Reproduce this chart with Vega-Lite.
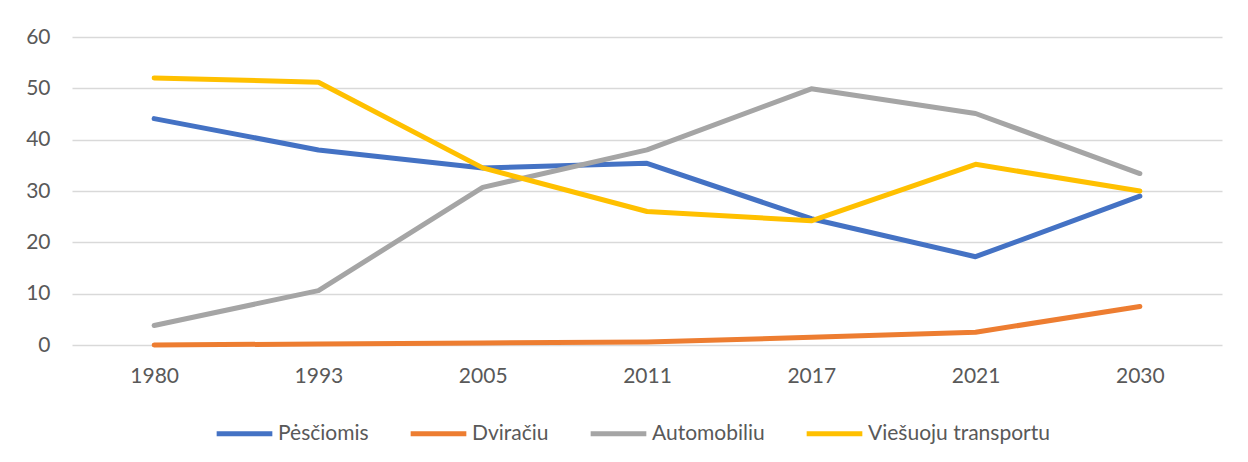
{
  "$schema": "https://vega.github.io/schema/vega-lite/v6.json",
  "width": 1150,
  "height": 308,
  "autosize": {"type": "none"},
  "padding": {"left": 72, "top": 37, "right": 26, "bottom": 117},
  "background": "white",
  "config": {
    "view": {"stroke": null},
    "font": "Lato"
  },
  "data": {
    "values": [
      {"year": "1980", "mode": "Pėsčiomis", "value": 44.1},
      {"year": "1993", "mode": "Pėsčiomis", "value": 38.0},
      {"year": "2005", "mode": "Pėsčiomis", "value": 34.5},
      {"year": "2011", "mode": "Pėsčiomis", "value": 35.4},
      {"year": "2017", "mode": "Pėsčiomis", "value": 24.6},
      {"year": "2021", "mode": "Pėsčiomis", "value": 17.2},
      {"year": "2030", "mode": "Pėsčiomis", "value": 29.0},
      {"year": "1980", "mode": "Dviračiu", "value": 0.0},
      {"year": "1993", "mode": "Dviračiu", "value": 0.2},
      {"year": "2005", "mode": "Dviračiu", "value": 0.4},
      {"year": "2011", "mode": "Dviračiu", "value": 0.6},
      {"year": "2017", "mode": "Dviračiu", "value": 1.5},
      {"year": "2021", "mode": "Dviračiu", "value": 2.5},
      {"year": "2030", "mode": "Dviračiu", "value": 7.5},
      {"year": "1980", "mode": "Automobiliu", "value": 3.8},
      {"year": "1993", "mode": "Automobiliu", "value": 10.6},
      {"year": "2005", "mode": "Automobiliu", "value": 30.7},
      {"year": "2011", "mode": "Automobiliu", "value": 38.0},
      {"year": "2017", "mode": "Automobiliu", "value": 49.9},
      {"year": "2021", "mode": "Automobiliu", "value": 45.1},
      {"year": "2030", "mode": "Automobiliu", "value": 33.4},
      {"year": "1980", "mode": "Viešuoju transportu", "value": 52.0},
      {"year": "1993", "mode": "Viešuoju transportu", "value": 51.2},
      {"year": "2005", "mode": "Viešuoju transportu", "value": 34.5},
      {"year": "2011", "mode": "Viešuoju transportu", "value": 26.0},
      {"year": "2017", "mode": "Viešuoju transportu", "value": 24.2},
      {"year": "2021", "mode": "Viešuoju transportu", "value": 35.2},
      {"year": "2030", "mode": "Viešuoju transportu", "value": 30.0}
    ]
  },
  "mark": {"type": "line", "strokeWidth": 5, "strokeCap": "round", "strokeJoin": "round"},
  "encoding": {
    "x": {
      "field": "year",
      "type": "ordinal",
      "scale": {"type": "point", "padding": 0.5},
      "axis": {
        "title": null,
        "labelAngle": 0,
        "domain": false,
        "ticks": false,
        "grid": false,
        "labelFontSize": 21,
        "labelColor": "#595959",
        "labelPadding": 20
      }
    },
    "y": {
      "field": "value",
      "type": "quantitative",
      "scale": {"domain": [0, 60], "nice": false},
      "axis": {
        "title": null,
        "values": [0, 10, 20, 30, 40, 50, 60],
        "domain": false,
        "ticks": false,
        "gridColor": "#D9D9D9",
        "gridWidth": 1.5,
        "labelFontSize": 21,
        "labelColor": "#595959",
        "labelPadding": 22
      }
    },
    "color": {
      "field": "mode",
      "type": "nominal",
      "sort": ["Pėsčiomis", "Dviračiu", "Automobiliu", "Viešuoju transportu"],
      "scale": {
        "domain": ["Pėsčiomis", "Dviračiu", "Automobiliu", "Viešuoju transportu"],
        "range": ["#4472C4", "#ED7D31", "#A5A5A5", "#FFC000"]
      },
      "legend": {
        "title": null,
        "orient": "none",
        "legendX": 142,
        "legendY": 366,
        "direction": "horizontal",
        "symbolType": "stroke",
        "symbolStrokeWidth": 5,
        "symbolSize": 3100,
        "labelFontSize": 21,
        "labelColor": "#595959",
        "labelOffset": 3,
        "labelLimit": 0,
        "columnPadding": 31
      }
    }
  }
}
